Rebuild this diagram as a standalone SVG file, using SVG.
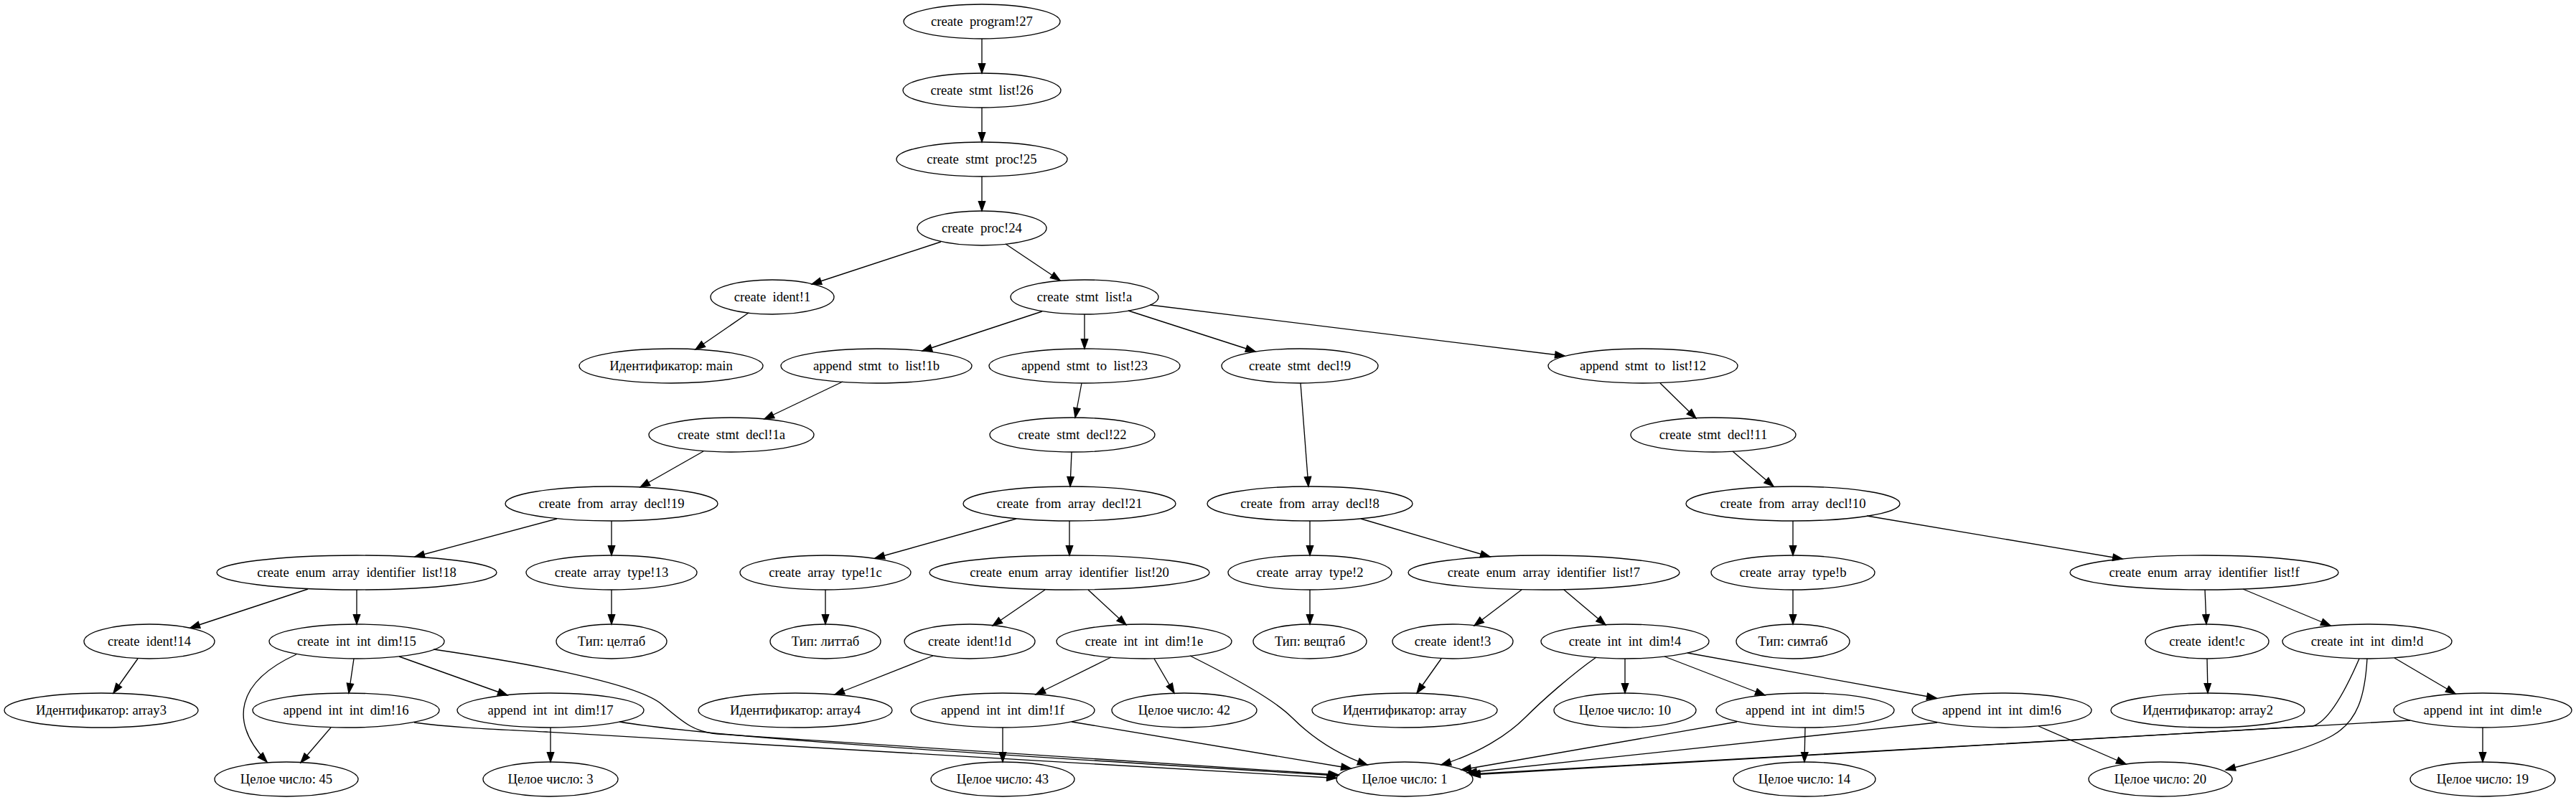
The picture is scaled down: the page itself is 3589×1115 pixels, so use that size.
<svg xmlns="http://www.w3.org/2000/svg" width="3589" height="1115" viewBox="0 0 3589 1115" xml:space="preserve">
<style>
.node ellipse{fill:none;stroke:#000;stroke-width:1.33}
.node text{font-family:"Liberation Serif","Times New Roman",serif;font-size:18.67px;text-anchor:middle;white-space:pre;fill:#000}
#edges path{fill:none;stroke:#000;stroke-width:1.33;marker-end:url(#arr)}
</style>
<defs>
<marker id="arr" markerUnits="userSpaceOnUse" viewBox="-2 -8 18 16" markerWidth="18" markerHeight="16" refX="13.33" refY="0" orient="auto">
<path d="M0,-4.67 L13.33,0 L0,4.67 z" fill="#000" stroke="#000" stroke-width="1.33"/>
</marker>
</defs>
<rect width="3589" height="1115" fill="#fff"/>
<g id="edges">
<path d="M1368,54 L1368,102"/>
<path d="M1368,150 L1368,198"/>
<path d="M1368,246 L1368,294"/>
<path d="M1311,337 L1131,396"/>
<path d="M1401,340 L1477,391"/>
<path d="M1043,436 L969,487"/>
<path d="M1452,434 L1285,489"/>
<path d="M1511,438 L1511,486"/>
<path d="M1572,433 L1749,490"/>
<path d="M1602,425 L2180,496"/>
<path d="M1174,532 L1065,584"/>
<path d="M980,629 L892,679"/>
<path d="M776,723 L578,776"/>
<path d="M852,726 L852,774"/>
<path d="M429,821 L265,875"/>
<path d="M497,822 L497,870"/>
<path d="M852,822 L852,870"/>
<path d="M192,918 L158,966"/>
<path d="M413,912 C330,950 318,1005 372,1062"/>
<path d="M493,918 L486,966"/>
<path d="M556,915 L707,969"/>
<path d="M604,905 C720,922 880,950 920,980 C950,1005 965,1020 1000,1023 L1865,1080"/>
<path d="M461,1014 L419,1063"/>
<path d="M577,1007 C630,1014 680,1016 760,1020 L1862,1084.5"/>
<path d="M767,1014 L767,1062"/>
<path d="M863,1006 C960,1022 1150,1038 1864,1081"/>
<path d="M1507,534 L1498,582"/>
<path d="M1493,630 L1491,678"/>
<path d="M1416,723 L1219,778"/>
<path d="M1490,726 L1490,774"/>
<path d="M1150,822 L1150,870"/>
<path d="M1456,822 L1383,872"/>
<path d="M1516,822 L1569,871"/>
<path d="M1300,914 L1163,968"/>
<path d="M1548,916 L1443,968"/>
<path d="M1608,918 L1636,966"/>
<path d="M1658,914 C1720,945 1775,975 1800,1000 C1825,1025 1860,1050 1905,1066"/>
<path d="M1397,1014 L1397,1062"/>
<path d="M1493,1006 L1882,1071"/>
<path d="M1812,534 L1823,678"/>
<path d="M1825,726 L1825,774"/>
<path d="M1896,723 L2076,776"/>
<path d="M1825,822 L1825,870"/>
<path d="M2120,822 L2054,872"/>
<path d="M2179,822 L2237,871"/>
<path d="M2008,918 L1974,966"/>
<path d="M2224,916 C2190,940 2150,975 2125,1000 C2100,1025 2060,1050 2008,1066"/>
<path d="M2264,918 L2264,966"/>
<path d="M2319,915 L2459,969"/>
<path d="M2351,910 L2698,973"/>
<path d="M2420,1006 L2036,1073"/>
<path d="M2515,1014 L2514,1062"/>
<path d="M2699,1007 L2044,1077"/>
<path d="M2840,1012 L2962,1065"/>
<path d="M2313,534 L2363,583"/>
<path d="M2414,629 L2471,678"/>
<path d="M2498,726 L2498,774"/>
<path d="M2601,719 L2957,779"/>
<path d="M2498,822 L2498,870"/>
<path d="M3072,822 L3074,870"/>
<path d="M3125,821 L3247,872"/>
<path d="M3075,918 L3076,966"/>
<path d="M3287,918 C3268,962 3245,1006 3222,1012 L2048,1079"/>
<path d="M3298,918 C3295,970 3285,1005 3250,1025 C3215,1045 3150,1060 3101,1073"/>
<path d="M3336,917 L3421,967"/>
<path d="M3358,1004 L2049,1080"/>
<path d="M3459,1014 L3459,1062"/>
</g>
<g id="n27" class="node"><ellipse cx="1368" cy="30" rx="109" ry="24"/><text x="1368" y="35.5">create  program!27</text></g>
<g id="n26" class="node"><ellipse cx="1368" cy="126" rx="110" ry="24"/><text x="1368" y="131.5">create  stmt  list!26</text></g>
<g id="n25" class="node"><ellipse cx="1368" cy="222" rx="119" ry="24"/><text x="1368" y="227.5">create  stmt  proc!25</text></g>
<g id="n24" class="node"><ellipse cx="1368" cy="318" rx="90" ry="24"/><text x="1368" y="323.5">create  proc!24</text></g>
<g id="n1" class="node"><ellipse cx="1076" cy="414" rx="86" ry="24"/><text x="1076" y="419.5">create  ident!1</text></g>
<g id="na" class="node"><ellipse cx="1511" cy="414" rx="103" ry="24"/><text x="1511" y="419.5">create  stmt  list!a</text></g>
<g id="main" class="node"><ellipse cx="935" cy="510" rx="128" ry="24"/><text x="935" y="515.5">Идентификатор: main</text></g>
<g id="n1b" class="node"><ellipse cx="1221" cy="510" rx="133" ry="24"/><text x="1221" y="515.5">append  stmt  to  list!1b</text></g>
<g id="n23" class="node"><ellipse cx="1511" cy="510" rx="133" ry="24"/><text x="1511" y="515.5">append  stmt  to  list!23</text></g>
<g id="n9" class="node"><ellipse cx="1811" cy="510" rx="109" ry="24"/><text x="1811" y="515.5">create  stmt  decl!9</text></g>
<g id="n12" class="node"><ellipse cx="2289" cy="510" rx="132" ry="24"/><text x="2289" y="515.5">append  stmt  to  list!12</text></g>
<g id="n1a" class="node"><ellipse cx="1019" cy="606" rx="115" ry="24"/><text x="1019" y="611.5">create  stmt  decl!1a</text></g>
<g id="n22" class="node"><ellipse cx="1494" cy="606" rx="115" ry="24"/><text x="1494" y="611.5">create  stmt  decl!22</text></g>
<g id="n11" class="node"><ellipse cx="2387" cy="606" rx="115" ry="24"/><text x="2387" y="611.5">create  stmt  decl!11</text></g>
<g id="n19" class="node"><ellipse cx="852" cy="702" rx="148" ry="24"/><text x="852" y="707.5">create  from  array  decl!19</text></g>
<g id="n21" class="node"><ellipse cx="1490" cy="702" rx="148" ry="24"/><text x="1490" y="707.5">create  from  array  decl!21</text></g>
<g id="n8" class="node"><ellipse cx="1825" cy="702" rx="143" ry="24"/><text x="1825" y="707.5">create  from  array  decl!8</text></g>
<g id="n10" class="node"><ellipse cx="2498" cy="702" rx="149" ry="24"/><text x="2498" y="707.5">create  from  array  decl!10</text></g>
<g id="n18" class="node"><ellipse cx="497" cy="798" rx="195" ry="24"/><text x="497" y="803.5">create  enum  array  identifier  list!18</text></g>
<g id="n13" class="node"><ellipse cx="852" cy="798" rx="119" ry="24"/><text x="852" y="803.5">create  array  type!13</text></g>
<g id="n1c" class="node"><ellipse cx="1150" cy="798" rx="119" ry="24"/><text x="1150" y="803.5">create  array  type!1c</text></g>
<g id="n20" class="node"><ellipse cx="1490" cy="798" rx="195" ry="24"/><text x="1490" y="803.5">create  enum  array  identifier  list!20</text></g>
<g id="n2" class="node"><ellipse cx="1825" cy="798" rx="114" ry="24"/><text x="1825" y="803.5">create  array  type!2</text></g>
<g id="n7" class="node"><ellipse cx="2151" cy="798" rx="189" ry="24"/><text x="2151" y="803.5">create  enum  array  identifier  list!7</text></g>
<g id="nb" class="node"><ellipse cx="2498" cy="798" rx="114" ry="24"/><text x="2498" y="803.5">create  array  type!b</text></g>
<g id="nf" class="node"><ellipse cx="3071" cy="798" rx="187" ry="24"/><text x="3071" y="803.5">create  enum  array  identifier  list!f</text></g>
<g id="n14" class="node"><ellipse cx="208" cy="894" rx="91" ry="24"/><text x="208" y="899.5">create  ident!14</text></g>
<g id="n15" class="node"><ellipse cx="497" cy="894" rx="122" ry="24"/><text x="497" y="899.5">create  int  int  dim!15</text></g>
<g id="t13" class="node"><ellipse cx="852" cy="894" rx="77" ry="24"/><text x="852" y="899.5">Тип: целтаб</text></g>
<g id="t1c" class="node"><ellipse cx="1150" cy="894" rx="77" ry="24"/><text x="1150" y="899.5">Тип: литтаб</text></g>
<g id="n1d" class="node"><ellipse cx="1351" cy="894" rx="91" ry="24"/><text x="1351" y="899.5">create  ident!1d</text></g>
<g id="n1e" class="node"><ellipse cx="1594" cy="894" rx="122" ry="24"/><text x="1594" y="899.5">create  int  int  dim!1e</text></g>
<g id="t2" class="node"><ellipse cx="1825" cy="894" rx="79" ry="24"/><text x="1825" y="899.5">Тип: вещтаб</text></g>
<g id="n3" class="node"><ellipse cx="2024" cy="894" rx="84" ry="24"/><text x="2024" y="899.5">create  ident!3</text></g>
<g id="n4" class="node"><ellipse cx="2264" cy="894" rx="117" ry="24"/><text x="2264" y="899.5">create  int  int  dim!4</text></g>
<g id="tb" class="node"><ellipse cx="2498" cy="894" rx="79" ry="24"/><text x="2498" y="899.5">Тип: симтаб</text></g>
<g id="nc" class="node"><ellipse cx="3075" cy="894" rx="86" ry="24"/><text x="3075" y="899.5">create  ident!c</text></g>
<g id="nd" class="node"><ellipse cx="3298" cy="894" rx="118" ry="24"/><text x="3298" y="899.5">create  int  int  dim!d</text></g>
<g id="id3" class="node"><ellipse cx="141" cy="990" rx="135" ry="24"/><text x="141" y="995.5">Идентификатор: array3</text></g>
<g id="n16" class="node"><ellipse cx="482" cy="990" rx="130" ry="24"/><text x="482" y="995.5">append  int  int  dim!16</text></g>
<g id="n17" class="node"><ellipse cx="767" cy="990" rx="130" ry="24"/><text x="767" y="995.5">append  int  int  dim!17</text></g>
<g id="id4" class="node"><ellipse cx="1108" cy="990" rx="135" ry="24"/><text x="1108" y="995.5">Идентификатор: array4</text></g>
<g id="n1f" class="node"><ellipse cx="1397" cy="990" rx="128" ry="24"/><text x="1397" y="995.5">append  int  int  dim!1f</text></g>
<g id="i42" class="node"><ellipse cx="1650" cy="990" rx="101" ry="24"/><text x="1650" y="995.5">Целое число: 42</text></g>
<g id="idA" class="node"><ellipse cx="1957" cy="990" rx="129" ry="24"/><text x="1957" y="995.5">Идентификатор: array</text></g>
<g id="i10" class="node"><ellipse cx="2264" cy="990" rx="99" ry="24"/><text x="2264" y="995.5">Целое число: 10</text></g>
<g id="n5" class="node"><ellipse cx="2515" cy="990" rx="124" ry="24"/><text x="2515" y="995.5">append  int  int  dim!5</text></g>
<g id="n6" class="node"><ellipse cx="2789" cy="990" rx="125" ry="24"/><text x="2789" y="995.5">append  int  int  dim!6</text></g>
<g id="id2" class="node"><ellipse cx="3076" cy="990" rx="135" ry="24"/><text x="3076" y="995.5">Идентификатор: array2</text></g>
<g id="ne" class="node"><ellipse cx="3459" cy="990" rx="124" ry="24"/><text x="3459" y="995.5">append  int  int  dim!e</text></g>
<g id="i45" class="node"><ellipse cx="399" cy="1086" rx="100" ry="24"/><text x="399" y="1091.5">Целое число: 45</text></g>
<g id="i3" class="node"><ellipse cx="767" cy="1086" rx="94" ry="24"/><text x="767" y="1091.5">Целое число: 3</text></g>
<g id="i43" class="node"><ellipse cx="1397" cy="1086" rx="100" ry="24"/><text x="1397" y="1091.5">Целое число: 43</text></g>
<g id="i1" class="node"><ellipse cx="1957" cy="1086" rx="95" ry="24"/><text x="1957" y="1091.5">Целое число: 1</text></g>
<g id="i14" class="node"><ellipse cx="2514" cy="1086" rx="99" ry="24"/><text x="2514" y="1091.5">Целое число: 14</text></g>
<g id="i20" class="node"><ellipse cx="3010" cy="1086" rx="100" ry="24"/><text x="3010" y="1091.5">Целое число: 20</text></g>
<g id="i19" class="node"><ellipse cx="3459" cy="1086" rx="101" ry="24"/><text x="3459" y="1091.5">Целое число: 19</text></g>
</svg>
